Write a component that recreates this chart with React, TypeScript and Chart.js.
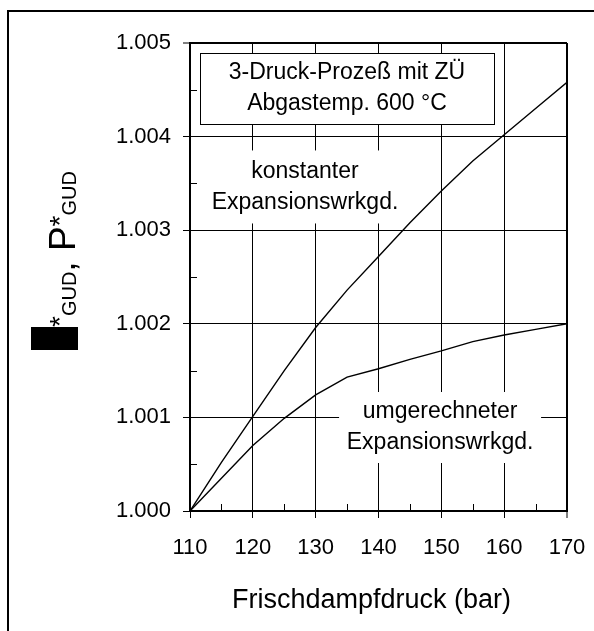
import React, { useEffect, useRef } from "react";
import { Chart, registerables } from "chart.js";

Chart.register(...registerables);

// ---- data ----
const pressure = [110, 115, 120, 125, 130, 135, 140, 145, 150, 155, 160, 165, 170];
const konstant = [1.0, 1.00052, 1.00101, 1.0015, 1.00196, 1.00236, 1.00272, 1.00308, 1.00342, 1.00374, 1.00402, 1.0043, 1.00458];
const umgerechnet = [1.0, 1.00035, 1.0007, 1.00099, 1.00124, 1.00143, 1.00152, 1.00162, 1.00171, 1.00181, 1.00188, 1.00194, 1.002];

const xTicks = [110, 120, 130, 140, 150, 160, 170];
const xMinor = [115, 125, 135, 145, 155, 165];
const yTicks = [1.0, 1.001, 1.002, 1.003, 1.004, 1.005];
const yMinor = [1.0005, 1.0015, 1.0025, 1.0035, 1.0045];

const xTitle = "Frischdampfdruck (bar)";
const boxLines = ["3-Druck-Prozeß mit ZÜ", "Abgastemp. 600 °C"];
const label1 = ["konstanter", "Expansionswrkgd."];
const label2 = ["umgerechneter", "Expansionswrkgd."];

const FONT = "'Liberation Sans', Arial, Helvetica, sans-serif";

const decor = {
  id: "decor",
  beforeDatasetsDraw(chart: any) {
    const ctx = chart.ctx;
    const xs = chart.scales.x;
    const ys = chart.scales.y;
    const ca = chart.chartArea;
    ctx.save();
    // minor ticks
    ctx.strokeStyle = "#000";
    ctx.lineWidth = 1;
    ctx.beginPath();
    xMinor.forEach((v) => {
      const x = Math.round(xs.getPixelForValue(v)) + 0.5;
      ctx.moveTo(x, ca.bottom);
      ctx.lineTo(x, ca.bottom - 7);
    });
    yMinor.forEach((v) => {
      const y = Math.round(ys.getPixelForValue(v)) + 0.5;
      ctx.moveTo(ca.left, y);
      ctx.lineTo(ca.left + 7, y);
    });
    ctx.stroke();

    ctx.font = `23px ${FONT}`;
    ctx.textAlign = "center";
    ctx.textBaseline = "middle";

    // annotation box
    const bl = Math.round(xs.getPixelForValue(111.6));
    const br = Math.round(xs.getPixelForValue(158.4));
    const bt = Math.round(ys.getPixelForValue(1.004893));
    const bb = Math.round(ys.getPixelForValue(1.004135));
    ctx.fillStyle = "#fff";
    ctx.fillRect(bl, bt, br - bl, bb - bt);
    ctx.strokeStyle = "#000";
    ctx.lineWidth = 1;
    ctx.strokeRect(bl + 0.5, bt + 0.5, br - bl, bb - bt);
    ctx.fillStyle = "#000";
    const bcx = (bl + br) / 2;
    const bcy = (bt + bb) / 2;
    ctx.fillText(boxLines[0], bcx, bcy - 16);
    ctx.fillText(boxLines[1], bcx, bcy + 15);

    // labels with white backgrounds
    const drawLabel = (lines: string[], cxv: number, cyv: number, w: number, h: number) => {
      const cx = xs.getPixelForValue(cxv);
      const cy = ys.getPixelForValue(cyv);
      ctx.fillStyle = "#fff";
      ctx.fillRect(cx - w / 2, cy - h / 2, w, h);
      ctx.fillStyle = "#000";
      ctx.fillText(lines[0], cx, cy - 15.5);
      ctx.fillText(lines[1], cx, cy + 15.5);
    };
    drawLabel(label1, 128.3, 1.003462, 200, 73);
    drawLabel(label2, 149.8, 1.000892, 202, 71);
    ctx.restore();
  },
  afterDraw(chart: any) {
    const ctx = chart.ctx;
    const ca = chart.chartArea;
    ctx.save();
    // outer frame
    ctx.strokeStyle = "#000";
    ctx.lineWidth = 2;
    ctx.strokeRect(8, 11, 800, 800);
    ctx.fillStyle = "#000";
    // x title
    ctx.font = `27px ${FONT}`;
    ctx.textAlign = "center";
    ctx.textBaseline = "alphabetic";
    ctx.fillText(xTitle, (ca.left + ca.right) / 2 - 7, 608);
    // y title (rotated)
    ctx.translate(75, 350);
    ctx.rotate(-Math.PI / 2);
    ctx.textAlign = "left";
    let u = 0;
    ctx.fillRect(0, -44, 23, 47);
    u = 23;
    const big = `37px ${FONT}`;
    const star = `28px ${FONT}`;
    const sub = `20px ${FONT}`;
    const put = (t: string, f: string, v: number) => {
      ctx.font = f;
      ctx.fillText(t, u, v);
      u += ctx.measureText(t).width;
    };
    put("*", star, -6);
    put("GUD", sub, 1);
    put(", ", big, 0);
    put("P", big, 0);
    put("*", star, -6);
    put("GUD", sub, 1);
    ctx.restore();
  },
};

export default function App() {
  const ref = useRef<HTMLCanvasElement>(null);
  useEffect(() => {
    if (!ref.current) return;
    const lastX = xTicks.length - 1;
    const lastY = yTicks.length - 1;
    const chart = new Chart(ref.current, {
      type: "line",
      data: {
        datasets: [
          {
            data: pressure.map((p, i) => ({ x: p, y: konstant[i] })),
            borderColor: "#000",
            borderWidth: 1.4,
            pointRadius: 0,
            tension: 0,
          },
          {
            data: pressure.map((p, i) => ({ x: p, y: umgerechnet[i] })),
            borderColor: "#000",
            borderWidth: 1.4,
            pointRadius: 0,
            tension: 0,
          },
        ],
      },
      options: {
        responsive: false,
        animation: false,
        events: [],
        layout: { padding: { left: 0, right: 27, top: 43, bottom: 0 } },
        plugins: { legend: { display: false }, tooltip: { enabled: false } },
        scales: {
          x: {
            type: "linear",
            min: 110,
            max: 170,
            afterBuildTicks: (s: any) => {
              s.ticks = xTicks.map((v) => ({ value: v }));
            },
            afterFit: (s: any) => {
              s.height = 120;
              s.paddingLeft = 0;
              s.paddingRight = 0;
            },
            ticks: {
              color: "#000",
              font: { family: FONT, size: 22 },
              padding: 17,
              maxRotation: 0,
              callback: (v: any) => String(v),
            },
            grid: {
              color: "#000",
              lineWidth: (c: any) => (c.index === lastX ? 2 : 1),
              tickLength: 7,
              tickWidth: 1,
            },
            border: { display: true, color: "#000", width: 2 },
          },
          y: {
            type: "linear",
            min: 1.0,
            max: 1.005,
            afterBuildTicks: (s: any) => {
              s.ticks = yTicks.map((v) => ({ value: v }));
            },
            afterFit: (s: any) => {
              s.width = 190;
              s.paddingTop = 0;
              s.paddingBottom = 0;
            },
            ticks: {
              color: "#000",
              font: { family: FONT, size: 22 },
              padding: 12,
              callback: (v: any) => Number(v).toFixed(3),
            },
            grid: {
              color: "#000",
              lineWidth: (c: any) => (c.index === lastY ? 2 : 1),
              tickLength: 7,
              tickWidth: 1,
            },
            border: { display: true, color: "#000", width: 2 },
          },
        },
      },
      plugins: [decor],
    });
    return () => chart.destroy();
  }, []);
  return (
    <canvas
      ref={ref}
      width={594}
      height={631}
      style={{ position: "absolute", left: 0, top: 0, display: "block", background: "#fff" }}
    />
  );
}
